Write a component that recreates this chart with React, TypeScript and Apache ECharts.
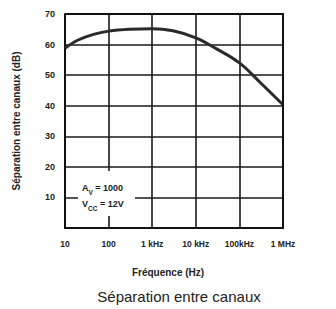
import React, { useEffect, useRef } from "react";
import * as echarts from "echarts";

const freqs = [10, 20, 50, 100, 300, 1000, 3000, 10000, 30000, 100000, 300000, 1000000];
const separation = [58.8, 61.5, 63.5, 64.4, 65.0, 65.2, 64.5, 62.2, 58.6, 54.0, 47.6, 40.3];
const xTickLabels: Record<number, string> = {
  10: "10",
  100: "100",
  1000: "1 kHz",
  10000: "10 kHz",
  100000: "100kHz",
  1000000: "1 MHz",
};
const annotationLines = ["A{sub|V} = 1000", "V{sub|CC} = 12V"];

export default function App() {
  const ref = useRef<HTMLDivElement>(null);
  useEffect(() => {
    document.body.style.margin = "0";
    if (!ref.current) return;
    const chart = echarts.init(ref.current, null, { renderer: "svg" });
    const font = "'Liberation Sans', Arial, sans-serif";
    chart.setOption({
      animation: false,
      backgroundColor: "#ffffff",
      title: {
        text: "Séparation entre canaux",
        left: 174,
        textAlign: "center",
        top: 284,
        textStyle: { fontFamily: font, fontWeight: "normal", fontSize: 15, color: "#222" },
      },
      grid: { left: 65, right: 53, top: 14, bottom: 81 },
      xAxis: {
        type: "log",
        logBase: 10,
        min: 10,
        max: 1000000,
        name: "Fréquence (Hz)",
        nameLocation: "middle",
        nameGap: 39,
        nameTextStyle: { fontFamily: font, fontWeight: "bold", fontSize: 10, color: "#222", padding: [0, 12, 0, 0] },
        axisLine: { lineStyle: { color: "#111", width: 2 } },
        axisTick: { show: false },
        splitLine: { show: true, lineStyle: { color: "#1a1a1a", width: 1.6 } },
        minorTick: { show: false },
        axisLabel: {
          margin: 11,
          fontFamily: font,
          fontWeight: "bold",
          fontSize: 8.5,
          color: "#222",
          formatter: (v: number) => xTickLabels[Math.round(v)] ?? "",
        },
      },
      yAxis: {
        type: "value",
        min: 0,
        max: 70,
        interval: 10,
        name: "Séparation entre canaux (dB)",
        nameLocation: "middle",
        nameGap: 44,
        nameTextStyle: { fontFamily: font, fontWeight: "bold", fontSize: 10, color: "#222" },
        axisLine: { show: true, lineStyle: { color: "#111", width: 2 } },
        axisTick: { show: false },
        splitLine: { show: true, lineStyle: { color: "#1a1a1a", width: 1.6 } },
        axisLabel: {
          margin: 10,
          fontFamily: font,
          fontWeight: "bold",
          fontSize: 9,
          color: "#222",
          formatter: (v: number) => (v === 0 ? "" : String(v)),
        },
      },
      graphic: [
        { type: "rect", left: 282, top: 13, shape: { width: 2, height: 216 }, style: { fill: "#111" }, z: 10 },
        { type: "rect", left: 65, top: 13, shape: { width: 218, height: 2 }, style: { fill: "#111" }, z: 10 },
        {
          type: "rect",
          left: 78,
          top: 171,
          shape: { width: 57, height: 45 },
          style: { fill: "#ffffff" },
          z: 5,
        },
        {
          type: "text",
          left: 82,
          top: 180,
          z: 6,
          style: {
            text: annotationLines.join("\n"),
            fontFamily: font,
            fontWeight: "bold",
            fontSize: 9,
            lineHeight: 16,
            fill: "#222",
            rich: {
              sub: { fontSize: 6.5, fontWeight: "bold", fontFamily: font, fill: "#222", verticalAlign: "bottom", padding: [4, 0, 0, 0] },
            },
          },
        },
      ],
      series: [
        {
          type: "line",
          data: freqs.map((f, i) => [f, separation[i]]),
          smooth: 0.4,
          symbol: "none",
          lineStyle: { color: "#2a2a2a", width: 3 },
          z: 4,
        },
      ],
    });
    return () => chart.dispose();
  }, []);
  return <div ref={ref} style={{ width: 336, height: 309 }} />;
}
